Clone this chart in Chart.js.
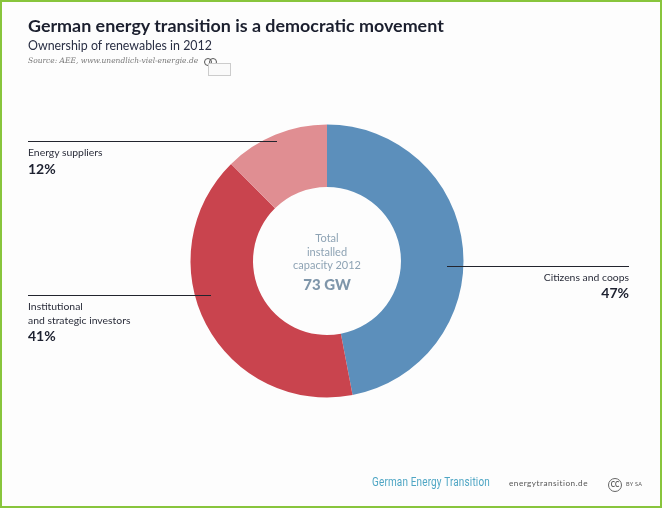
<!DOCTYPE html>
<html>
<head>
<meta charset="utf-8">
<script src="https://cdn.jsdelivr.net/npm/chart.js@4"></script>
<style>
  html, body { margin: 0; padding: 0; }
  body { width: 662px; height: 508px; overflow: hidden; background: #fdfdfd; font-family: "Lato", sans-serif; color: #1d2130; }
  #frame { position: absolute; left: 0; top: 0; width: 662px; height: 508px; box-sizing: border-box; border: 2px solid #88c53c; }
  #chart { position: absolute; left: 0; top: 0; }
  .t { position: absolute; white-space: nowrap; }
  .line { position: absolute; height: 1px; background: #23252e; }
  .label { font-size: 10.4px; line-height: 14px; color: #2a2d3a; }
  .pct { font-size: 14px; font-weight: 700; color: #1d2130; }
  .center { left: 267px; width: 120px; text-align: center; color: #8ea3b4; font-size: 11px; }
  .ring { position: absolute; border: 1px solid #555; border-radius: 50%; box-sizing: border-box; }
</style>
</head>
<body>
<div id="frame"></div>
<canvas id="chart" width="662" height="508"></canvas>

<div class="t" style="left:28px;top:14px;font-size:17.9px;font-weight:700;color:#1b1f2e;">German energy transition is a democratic movement</div>
<div class="t" style="left:28px;top:38px;font-size:12.4px;color:#2a2f44;">Ownership of renewables in 2012</div>
<div class="t" style="left:28px;top:56px;font-family:'DejaVu Serif',serif;font-style:italic;font-size:7.5px;color:#777;">Source: AEE, www.unendlich-viel-energie.de</div>
<div class="ring" style="left:204px;top:58px;width:8px;height:8px;"></div>
<div class="ring" style="left:209px;top:58px;width:8px;height:8px;"></div>
<div style="position:absolute;left:208px;top:63px;width:21px;height:11px;border:1px solid #ccc;background:#fafafa;"></div>

<div class="line" style="left:28px;top:141px;width:249px;"></div>
<div class="t label" style="left:28px;top:145px;">Energy suppliers</div>
<div class="t pct" id="pct2" style="left:28px;top:160px;"></div>

<div class="line" style="left:28px;top:295px;width:183px;"></div>
<div class="t label" style="left:28px;top:299px;">Institutional<br>and strategic investors</div>
<div class="t pct" id="pct1" style="left:28px;top:327px;"></div>

<div class="line" style="left:447px;top:266px;width:182px;"></div>
<div class="t label" style="right:33px;top:270px;">Citizens and coops</div>
<div class="t pct" id="pct0" style="right:33px;top:284px;"></div>

<div class="t center" style="top:231px;line-height:13.5px;">Total<br>installed<br>capacity 2012</div>
<div class="t center" style="top:275px;font-size:15px;font-weight:900;color:#7f96aa;">73 GW</div>

<div class="t" style="left:372px;top:475px;font-size:12px;color:#4fa6c4;font-family:'Roboto',sans-serif;letter-spacing:0.2px;transform:scaleX(0.83);transform-origin:left;">German Energy Transition</div>
<div class="t" style="left:509px;top:478px;font-size:8.2px;color:#555;letter-spacing:0.5px;">energytransition.de</div>
<div class="ring" style="left:608px;top:478px;width:14px;height:14px;border-color:#666;"></div>
<div class="t" style="left:608px;top:481px;width:14px;text-align:center;font-size:6.5px;font-weight:700;color:#555;">CC</div>
<div class="t" style="left:626px;top:481px;font-size:5.5px;color:#555;letter-spacing:0.3px;">BY SA</div>

<script>
const categories = ['Citizens and coops', 'Institutional and strategic investors', 'Energy suppliers'];
const shareLabels = [47, 41, 12];
// slice sizes as measured off the ring, slightly different from the printed labels
const shares = [47, 40.6, 12.4];
const colors = ['#5c8fbb', '#c9444e', '#e08e92'];

shareLabels.forEach((v, i) => {
  document.getElementById('pct' + i).textContent = v + '%';
});

new Chart(document.getElementById('chart').getContext('2d'), {
  type: 'doughnut',
  data: {
    labels: categories,
    datasets: [{ data: shares, backgroundColor: colors, borderWidth: 0 }]
  },
  options: {
    responsive: false,
    animation: false,
    cutout: '54.2%',
    // puts the ring centre at 327,261 with radius 136.5
    layout: { padding: { left: 190.5, right: 198.5, top: 124.5, bottom: 110.5 } },
    plugins: { legend: { display: false }, tooltip: { enabled: false } }
  }
});
</script>
</body>
</html>
